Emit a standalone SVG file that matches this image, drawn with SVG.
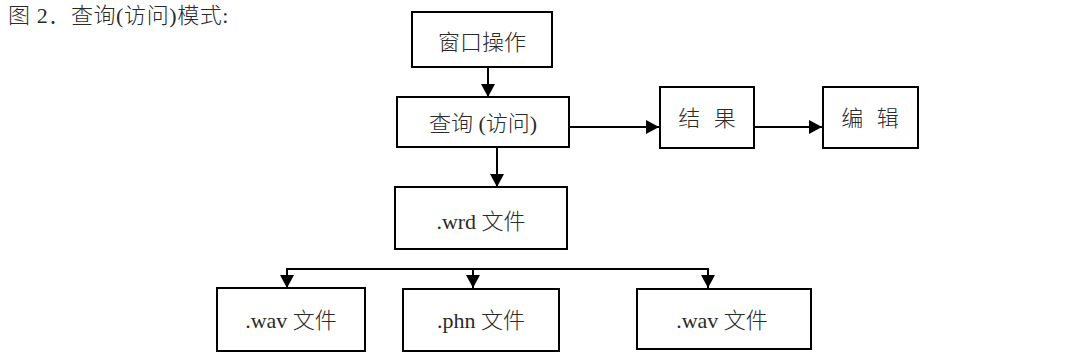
<svg xmlns="http://www.w3.org/2000/svg" width="1083" height="362" viewBox="0 0 1083 362">
  <style>
    .box { fill: #ffffff; stroke: #000000; stroke-width: 2; }
    .lbl { font-family: "Liberation Serif", "Noto Sans CJK SC", serif; font-size: 22px; font-weight: 300; fill: #2a2a2a; text-anchor: middle; }
    .title { font-family: "Liberation Serif", "Noto Sans CJK SC", serif; font-size: 22px; font-weight: 300; fill: #2a2a2a; letter-spacing: 0.6px; }
    .wire { fill: none; stroke: #000000; stroke-width: 2; }
  </style>
  <defs>
    <marker id="arrow" markerUnits="userSpaceOnUse" markerWidth="14" markerHeight="14" refX="13" refY="7" orient="auto">
      <path d="M0,0 L13,7 L0,14 z" fill="#000000"/>
    </marker>
  </defs>
  <rect width="1083" height="362" fill="#ffffff"/>

  <text class="title" x="8" y="23">图 2．查询(访问)模式:</text>

  <g id="connectors">
    <line class="wire" x1="488" y1="67" x2="488" y2="97" marker-end="url(#arrow)"/>
    <line class="wire" x1="497" y1="147" x2="497" y2="187" marker-end="url(#arrow)"/>
    <line class="wire" x1="566" y1="127" x2="659" y2="127" marker-end="url(#arrow)"/>
    <line class="wire" x1="754" y1="127" x2="822" y2="127" marker-end="url(#arrow)"/>
    <polyline class="wire" points="287,269 708,269"/>
    <line class="wire" x1="287" y1="268" x2="287" y2="288" marker-end="url(#arrow)"/>
    <line class="wire" x1="473" y1="269" x2="473" y2="288" marker-end="url(#arrow)"/>
    <line class="wire" x1="708" y1="268" x2="708" y2="288" marker-end="url(#arrow)"/>
  </g>

  <g id="window-op">
    <rect class="box" x="412" y="12" width="140" height="55"/>
    <text class="lbl" x="482" y="50">窗口操作</text>
  </g>
  <g id="query">
    <rect class="box" x="397" y="97" width="172" height="50"/>
    <text class="lbl" x="483" y="131">查询 (访问)</text>
  </g>
  <g id="result">
    <rect class="box" x="660" y="87" width="94" height="61"/>
    <text class="lbl" x="707" y="126" word-spacing="8">结 果</text>
  </g>
  <g id="edit">
    <rect class="box" x="823" y="87" width="95" height="61"/>
    <text class="lbl" x="870" y="126" word-spacing="8">编 辑</text>
  </g>
  <g id="wrd-file">
    <rect class="box" x="395" y="187" width="172" height="62"/>
    <text class="lbl" x="481" y="229">.wrd 文件</text>
  </g>
  <g id="wav-file-1">
    <rect class="box" x="217" y="288" width="148" height="63"/>
    <text class="lbl" x="291" y="328">.wav 文件</text>
  </g>
  <g id="phn-file">
    <rect class="box" x="403" y="289" width="156" height="62"/>
    <text class="lbl" x="481" y="328">.phn 文件</text>
  </g>
  <g id="wav-file-2">
    <rect class="box" x="637" y="289" width="174" height="60"/>
    <text class="lbl" x="722" y="328">.wav 文件</text>
  </g>
</svg>
